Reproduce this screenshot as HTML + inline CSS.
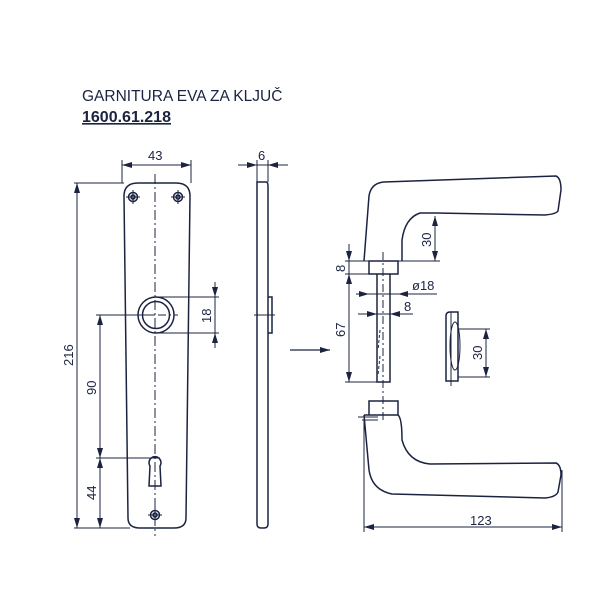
<!DOCTYPE html>
<html><head><style>
body{margin:0;background:#fff;width:600px;height:600px;overflow:hidden}
svg{display:block}
text{font-family:"Liberation Sans",sans-serif;fill:#1c2340}
</style></head><body>
<svg width="600" height="600" viewBox="0 0 600 600" xmlns="http://www.w3.org/2000/svg">
<defs>
<marker id="a" viewBox="0 0 10 6" refX="10" refY="3" markerWidth="10" markerHeight="6" orient="auto-start-reverse" markerUnits="userSpaceOnUse"><path d="M0,0 L10,3 L0,6z" fill="#1c2340"/></marker>
</defs>
<text x="82" y="101" font-size="15.5">GARNITURA EVA ZA KLJUČ</text>
<text x="82" y="122" font-size="16" font-weight="bold" text-decoration="underline">1600.61.218</text>
<g fill="none" stroke="#1c2340" stroke-width="1.5">
<path d="M124,196 Q124,183 138,183 L176,183 Q190,183 190,196 L186,518 Q186,528 174,528 L140,528 Q128,528 128,518 Z"/>
<g stroke-width="1.5">
<circle cx="133" cy="197" r="4.5"/><circle cx="178" cy="197" r="4.5"/><circle cx="155" cy="515" r="4.5"/>
<circle cx="133" cy="197" r="2"/><circle cx="178" cy="197" r="2"/><circle cx="155" cy="515" r="2"/>
<path d="M126,197h14M133,190v14M171,197h14M178,190v14M148,515h14M155,508v14" stroke-width="1"/>
</g>
<circle cx="156" cy="315" r="18"/><circle cx="156" cy="315" r="13.5"/>
<path d="M150,466 A6,6 0 1 1 160,466 L161,486 L149,486 Z"/>
<path d="M155,174 V536" stroke-dasharray="10,3,2,3" stroke-width="1"/>
<path d="M142,315 H178" stroke-dasharray="8,3,2,3" stroke-width="1"/>
<g stroke-width="1">
<path d="M122,160 V183 M191,160 V183"/>
<path d="M122,165 H191" marker-start="url(#a)" marker-end="url(#a)"/>
<path d="M74,183 H124 M74,528 H130"/>
<path d="M77,183 V528" marker-start="url(#a)" marker-end="url(#a)"/>
<path d="M96,315 H154 M96,458 H160"/>
<path d="M100,315 V458" marker-start="url(#a)" marker-end="url(#a)"/>
<path d="M100,458 V528" marker-start="url(#a)" marker-end="url(#a)"/>
<path d="M158,297 H219 M158,333 H219"/>
<path d="M215,282 V297" marker-end="url(#a)"/>
<path d="M215,348 V333" marker-end="url(#a)"/>
<path d="M215,297 V333"/>
</g>
<path d="M257,182 L266,182 Q268,182 268,186 L268,524 Q268,528 264,528 L261,528 Q257,528 257,524 Z"/>
<path d="M268,297 H272 V333 H268"/>
<g stroke-width="1">
<path d="M254,315 H275"/>
<path d="M257,160 V182 M268,160 V182"/>
<path d="M238,165 H257" marker-end="url(#a)"/>
<path d="M288,165 H268" marker-end="url(#a)"/>
<path d="M257,165 H268"/>
</g>
<path d="M290,350 H330" stroke-width="1.3" marker-end="url(#a)"/>
<path d="M364,261 L369,196 Q371,183 384,182 L556,176 Q561,178 561,190 L558,211 Q556,214 545,215 L436,213 L420,213 Q405,218 402,240 L402,261"/>
<path d="M369,261 H398 V274 H369 Z"/>
<path d="M377,274 V382 H390 V274"/>
<g stroke-width="1">
<path d="M383,252 V420" stroke-dasharray="8,3,2,3"/>
<path d="M380,330 L378,350 M380,356 L378,375" stroke-dasharray="3,2"/>
<path d="M345,261 H440 M345,274 H369 M345,382 H377"/>
<path d="M349,244 V261" marker-end="url(#a)"/>
<path d="M349,274 V382" marker-start="url(#a)" marker-end="url(#a)"/>
<path d="M349,261 V274"/>
<path d="M435,216 V261" marker-start="url(#a)" marker-end="url(#a)"/>
<path d="M356,294 H369" marker-end="url(#a)"/>
<path d="M437,294 H398" marker-end="url(#a)"/>
<path d="M369,294 H398"/>
<path d="M358,314 H377" marker-end="url(#a)"/>
<path d="M413,314 H390" marker-end="url(#a)"/>
<path d="M377,314 H390"/>
</g>
<path d="M446,316 Q446,312 450,312 L458,312 L458,381 L446,381 Z"/>
<path d="M451,312 V386" stroke-width="1"/>
<ellipse cx="455" cy="346" rx="5" ry="24" stroke-width="1"/>
<g stroke-width="1">
<path d="M458,329 H490 M458,377 H490"/>
<path d="M486,329 V377" marker-start="url(#a)" marker-end="url(#a)"/>
</g>
<path d="M369,415 V401 H398 V415"/>
<path d="M364,415 H398 Q402,418 402,440 Q408,462 430,464 L556,463 Q561,465 561,475 L558,492 Q556,497 545,498 L392,494 Q372,490 369,470 L364,415"/>
<g stroke-width="1">
<path d="M358,417 H378 M362,420 H378"/>
<path d="M364,420 V532 M562,470 V532"/>
<path d="M364,527 H562" marker-start="url(#a)" marker-end="url(#a)"/>
</g>
</g>
<g font-size="13">
<text x="148" y="160">43</text>
<text x="258" y="160">6</text>
<text x="470" y="525">123</text>
<text x="412" y="290">ø18</text>
<text x="404" y="311">8</text>
<text transform="translate(73,366) rotate(-90)">216</text>
<text transform="translate(96,395) rotate(-90)">90</text>
<text transform="translate(96,500) rotate(-90)">44</text>
<text transform="translate(211,323) rotate(-90)">18</text>
<text transform="translate(345,272) rotate(-90)">8</text>
<text transform="translate(345,337) rotate(-90)">67</text>
<text transform="translate(431,247) rotate(-90)">30</text>
<text transform="translate(482,360) rotate(-90)">30</text>
</g>
</svg>
</body></html>
